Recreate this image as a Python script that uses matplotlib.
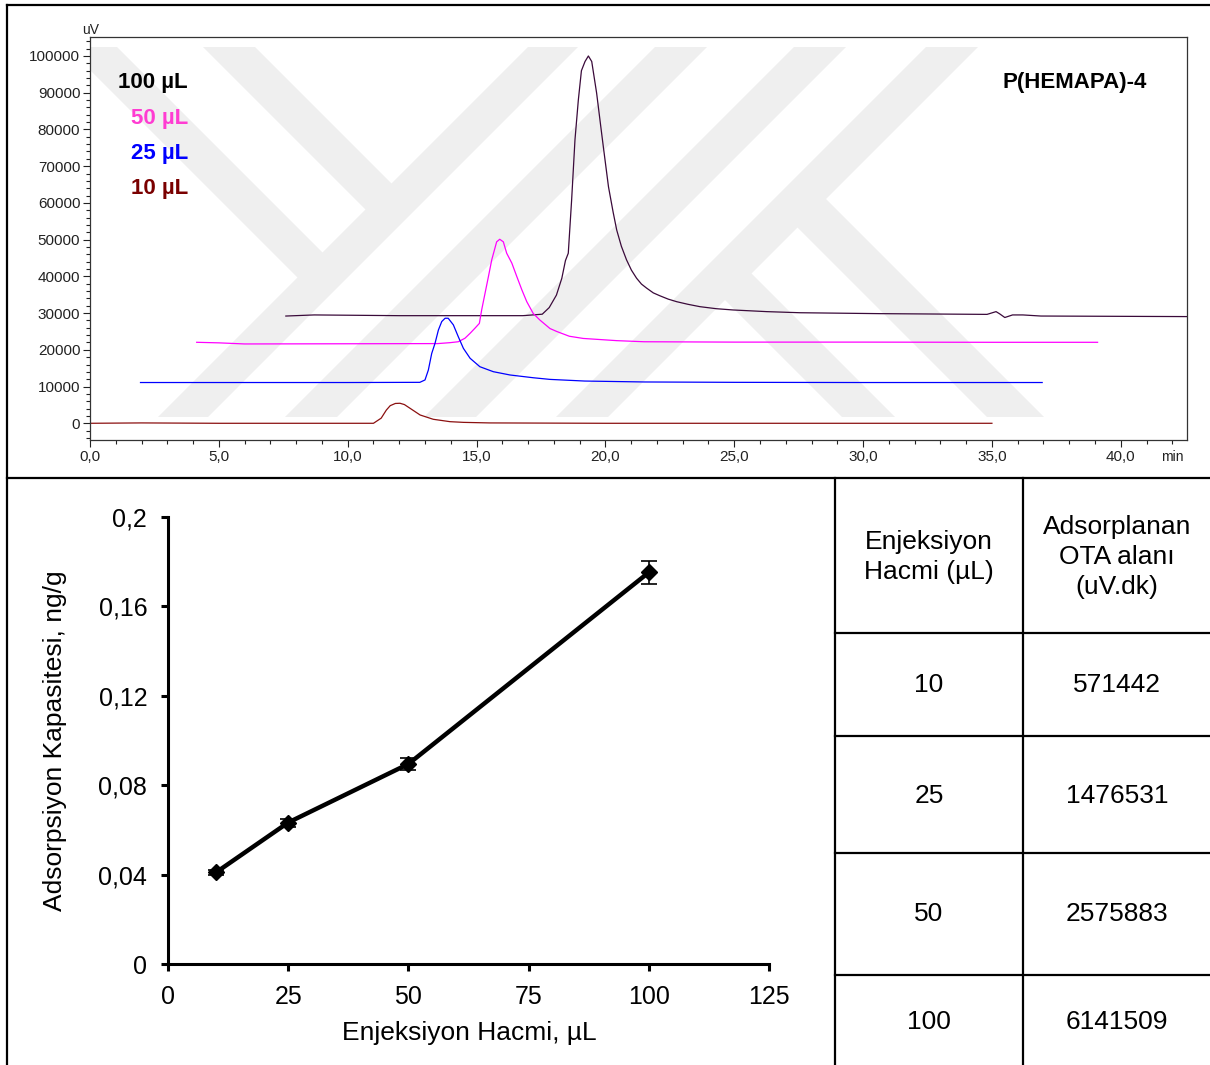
import matplotlib
matplotlib.use("Agg")
import matplotlib.pyplot as plt
from matplotlib.patches import Polygon, Rectangle
from matplotlib.ticker import MultipleLocator, FuncFormatter, FixedLocator

plt.rcParams['font.family'] = ['Liberation Sans', 'DejaVu Sans']

# --- chromatogram traces (min, uV) ---
t10 = [0.0, 2.0, 5.0, 8.0, 11.0, 11.3, 11.5, 11.65, 11.85, 12.03, 12.2, 12.42, 12.81, 13.32, 13.97,
       14.5, 15.5, 20.0, 25.0, 30.0, 35.0]
v10 = [0, 100, 0, 0, 0, 1400, 3600, 4800, 5400, 5450, 5100, 4080, 2260, 1090, 440,
       250, 100, 0, 0, 0, 0]

t25 = [1.96, 5.0, 10.0, 12.8, 13.0, 13.13, 13.26, 13.39, 13.52, 13.65, 13.78, 13.9, 14.1, 14.29, 14.49,
       14.75, 15.13, 15.65, 16.3, 17.2, 17.85, 19.2, 21.5, 25.0, 30.0, 36.95]
v25 = [11100, 11100, 11100, 11150, 11800, 14500, 19000, 21800, 25400, 27700, 28600, 28600, 26800, 23600, 20400,
       17700, 15400, 14050, 13150, 12400, 11950, 11500, 11250, 11150, 11100, 11100]

t50 = [4.14, 5.0, 6.0, 10.0, 13.5, 13.97, 14.29, 14.55, 14.75, 14.94, 15.11, 15.2, 15.33, 15.46, 15.59,
       15.71, 15.78, 15.9, 16.04, 16.17, 16.37, 16.56, 16.76, 16.95, 17.2, 17.46, 17.85, 18.11, 18.6,
       19.14, 20.44, 21.5, 25.0, 30.0, 35.0, 39.1]
v50 = [22050, 21900, 21600, 21650, 21700, 21950, 22200, 23150, 24500, 25900, 27200, 30900, 35400, 39900, 44500,
       47600, 49400, 50100, 49400, 46300, 43600, 40000, 36300, 33100, 29900, 28100, 25800, 25000, 23700,
       23100, 22500, 22200, 22100, 22100, 22050, 22050]

t100 = [7.6, 8.7, 12.0, 16.8, 17.55, 17.82, 18.1, 18.31, 18.45, 18.56, 18.69, 18.82, 18.95, 19.07, 19.21,
        19.34, 19.47, 19.66, 19.83, 19.92, 20.12, 20.3, 20.44, 20.62, 20.82, 21.01, 21.21, 21.4, 21.6,
        21.86, 22.12, 22.44, 22.77, 23.2, 23.67, 24.3, 24.96, 26.26, 27.55, 30.66, 34.81, 35.16, 35.3,
        35.5, 35.8, 36.2, 36.9, 42.57]
v100 = [29200, 29500, 29300, 29300, 29700, 31500, 34900, 39500, 44300, 46300, 60800, 77200, 88000, 96000, 98500,
        100000, 98500, 89900, 80300, 75300, 64400, 57500, 52600, 48200, 44500, 41700, 39500, 37900, 36800,
        35500, 34700, 33800, 33100, 32400, 31750, 31200, 30850, 30400, 30100, 29850, 29650, 30400, 29800,
        28800, 29500, 29500, 29200, 29050]

trace_labels = ["100 µL", "50 µL", "25 µL", "10 µL"]
trace_colors = ["#3a0a3a", "#ff00ff", "#0000ff", "#8b1010"]
label_colors = ["#000000", "#ff3cd2", "#0000ff", "#7a0000"]

# --- adsorption capacity vs injection volume ---
vol = [10, 25, 50, 100]
capacity = [0.041, 0.0633, 0.0895, 0.1752]
cap_err = [0.001, 0.0018, 0.0026, 0.005]

# --- table ---
tab_head = ["Enjeksiyon\nHacmi (µL)", "Adsorplanan\nOTA alanı\n(uV.dk)"]
tab_vol = ["10", "25", "50", "100"]
tab_area = ["571442", "1476531", "2575883", "6141509"]

W, H = 1210, 1065
fig = plt.figure(figsize=(W / 100, H / 100), dpi=100)

# overlay in pixel coordinates for frames, watermark and table
ov = fig.add_axes([0, 0, 1, 1], zorder=0)
ov.set_xlim(0, W)
ov.set_ylim(H, 0)
ov.axis('off')

lw_frame = 1.6
ov.plot([7, W], [5, 5], color='black', lw=lw_frame)
ov.plot([7, 7], [5, H], color='black', lw=lw_frame)
ov.plot([7, W], [478, 478], color='black', lw=lw_frame)

# faint watermark bands behind the chromatogram
clip = Rectangle((90, 37), 1097, 403, transform=ov.transData, fill=False)
y0, y1 = 47, 417
wm = []
for u0, u1 in [(575, 625), (702, 754), (841, 893), (973, 1025)]:
    wm.append([(u0 - y0, y0), (u1 - y0, y0), (u1 - y1, y1), (u0 - y1, y1)])
for v0, v1, ue in [(20, 70, 600), (156, 208, 600)]:
    wm.append([(v0 + y0, y0), (v1 + y0, y0), ((ue + v1) / 2, (ue - v1) / 2), ((ue + v0) / 2, (ue - v0) / 2)])
for v0, v1, us in [(425, 478, 1000), (570, 627, 1000)]:
    wm.append([((us + v0) / 2, (us - v0) / 2), ((us + v1) / 2, (us - v1) / 2), (v1 + y1, y1), (v0 + y1, y1)])
for pts in wm:
    p = Polygon(pts, closed=True, facecolor='#efefef', edgecolor='none')
    ov.add_patch(p)
    p.set_clip_path(clip)

# table
col_x = [835, 1023, W]
row_y = [478, 633, 736, 853, 975, H]
for x in col_x[:2]:
    ov.plot([x, x], [478, H], color='black', lw=lw_frame)
for y in row_y[1:-1]:
    ov.plot([835, W], [y, y], color='black', lw=lw_frame)
cx = [929, 1117]
ov.text(cx[0], 557, tab_head[0], ha='center', va='center', fontsize=19, linespacing=1.3)
ov.text(cx[1], 557, tab_head[1], ha='center', va='center', fontsize=19, linespacing=1.3)
row_c = [685, 796, 914, 1022]
for yc, a, b in zip(row_c, tab_vol, tab_area):
    ov.text(cx[0], yc, a, ha='center', va='center', fontsize=19)
    ov.text(cx[1], yc, b, ha='center', va='center', fontsize=19)

# chromatogram
ax = fig.add_axes([90 / W, 1 - 440 / H, 1097 / W, 403 / H], zorder=2)
ax.patch.set_alpha(0)
for t, v, c in zip([t100, t50, t25, t10], [v100, v50, v25, v10], trace_colors):
    ax.plot(t, v, color=c, lw=0.9)
ax.set_xlim(0, 42.57)
ax.set_ylim(-4550, 105170)
ax.xaxis.set_major_locator(MultipleLocator(5))
ax.xaxis.set_minor_locator(MultipleLocator(1))
ax.xaxis.set_major_formatter(FuncFormatter(lambda v, p: f"{v:.1f}".replace('.', ',')))
ax.yaxis.set_major_locator(FixedLocator(list(range(0, 100001, 10000))))
ax.yaxis.set_minor_locator(MultipleLocator(2000))
ax.yaxis.set_major_formatter(FuncFormatter(lambda v, p: f"{int(v)}"))
ax.tick_params(axis='both', which='major', length=5, width=0.8, labelsize=11, pad=2, colors='#222222')
ax.tick_params(axis='both', which='minor', length=3, width=0.8, colors='#222222')
for s in ax.spines.values():
    s.set_linewidth(0.9)
    s.set_color('#333333')

label_y = [0.888, 0.799, 0.712, 0.625]
for lab, col, yy in zip(trace_labels, label_colors, label_y):
    ax.text(0.0893, yy, lab, transform=ax.transAxes, ha='right', va='center',
            fontsize=16, fontweight='bold', color=col)
ax.text(0.9636, 0.888, "P(HEMAPA)-4", transform=ax.transAxes, ha='right', va='center',
        fontsize=16, fontweight='bold', color='black')
ax.text(0.001, 1.018, "uV", transform=ax.transAxes, ha='center', va='center', fontsize=10, color='#222222')
ax.text(0.9863, -0.042, "min", transform=ax.transAxes, ha='center', va='center', fontsize=10, color='#222222')

# adsorption capacity plot
ax2 = fig.add_axes([168 / W, 1 - 964 / H, 601 / W, 447 / H], zorder=2)
ax2.patch.set_alpha(0)
ax2.errorbar(vol, capacity, yerr=cap_err, color='black', lw=3.2, marker='D', markersize=8,
             ecolor='black', elinewidth=1.2, capsize=5.5, capthick=1.2)
ax2.set_xlim(0, 125)
ax2.set_ylim(0, 0.2)
ax2.set_xticks([0, 25, 50, 75, 100, 125])
ax2.set_yticks([0, 0.04, 0.08, 0.12, 0.16, 0.2])
ax2.set_yticklabels(["0", "0,04", "0,08", "0,12", "0,16", "0,2"])
ax2.spines['top'].set_visible(False)
ax2.spines['right'].set_visible(False)
for s in ['left', 'bottom']:
    ax2.spines[s].set_linewidth(2.2)
ax2.tick_params(axis='both', direction='out', length=5, width=2.2, labelsize=18, pad=10)
ax2.set_xlabel("Enjeksiyon Hacmi, µL", fontsize=19)
ax2.set_ylabel("Adsorpsiyon Kapasitesi, ng/g", fontsize=19)
ax2.xaxis.set_label_coords(0.5008, -0.128)
ax2.yaxis.set_label_coords(-0.168, 0.5)

fig.savefig("out.png", dpi=100)
